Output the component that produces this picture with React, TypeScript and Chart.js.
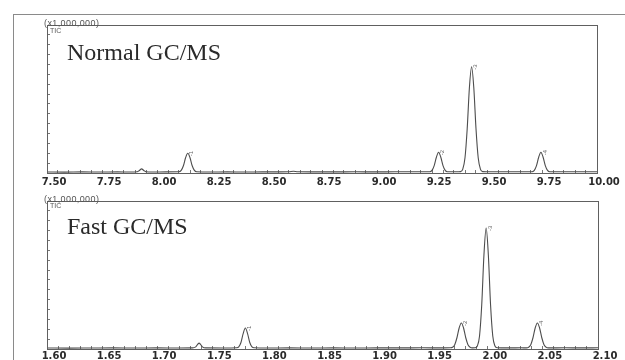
import React, { useEffect, useRef } from 'react';
import { Chart, registerables } from 'chart.js';

Chart.register(...registerables);

// Retention time (min) / TIC signal (x1,000,000)
const normalTrace: [number, number][] = [
  [7.50, 0.010], [7.58, 0.009], [7.66, 0.011], [7.74, 0.010], [7.82, 0.011], [7.88, 0.010],
  [7.91, 0.013], [7.92, 0.026], [7.93, 0.042], [7.94, 0.026], [7.95, 0.013], [7.98, 0.010],
  [8.04, 0.011], [8.10, 0.012], [8.11, 0.026], [8.12, 0.073], [8.13, 0.155], [8.14, 0.200],
  [8.15, 0.155], [8.16, 0.073], [8.17, 0.026], [8.18, 0.012], [8.24, 0.010], [8.32, 0.011],
  [8.40, 0.010], [8.48, 0.011], [8.56, 0.011], [8.60, 0.012], [8.62, 0.018], [8.64, 0.012],
  [8.70, 0.011], [8.80, 0.011], [8.90, 0.012], [9.00, 0.011], [9.08, 0.012], [9.16, 0.012],
  [9.24, 0.013], [9.25, 0.027], [9.26, 0.075], [9.27, 0.160], [9.28, 0.210], [9.29, 0.160],
  [9.30, 0.075], [9.31, 0.027], [9.32, 0.013], [9.36, 0.012], [9.38, 0.014], [9.39, 0.040],
  [9.40, 0.154], [9.41, 0.448], [9.42, 0.864], [9.43, 1.077], [9.44, 0.864], [9.45, 0.448],
  [9.46, 0.154], [9.47, 0.040], [9.48, 0.014], [9.52, 0.012], [9.58, 0.013], [9.64, 0.012],
  [9.70, 0.012], [9.705, 0.013], [9.715, 0.027], [9.725, 0.075], [9.735, 0.160], [9.745, 0.210],
  [9.755, 0.160], [9.765, 0.075], [9.775, 0.027], [9.785, 0.013], [9.82, 0.012], [9.90, 0.013],
  [9.96, 0.012], [10.00, 0.013],
];

const fastTrace: [number, number][] = [
  [1.600, 0.010], [1.620, 0.009], [1.640, 0.010], [1.660, 0.011], [1.680, 0.010], [1.700, 0.011],
  [1.720, 0.010], [1.732, 0.011], [1.735, 0.022], [1.738, 0.060], [1.741, 0.022], [1.744, 0.011],
  [1.760, 0.010], [1.772, 0.012], [1.774, 0.021], [1.776, 0.066], [1.778, 0.156], [1.780, 0.213],
  [1.782, 0.156], [1.784, 0.066], [1.786, 0.021], [1.788, 0.012], [1.800, 0.010], [1.820, 0.011],
  [1.840, 0.010], [1.860, 0.011], [1.880, 0.010], [1.900, 0.011], [1.920, 0.011], [1.940, 0.012],
  [1.960, 0.011], [1.966, 0.012], [1.968, 0.017], [1.970, 0.044], [1.972, 0.114], [1.974, 0.213],
  [1.976, 0.264], [1.978, 0.213], [1.980, 0.114], [1.982, 0.044], [1.984, 0.017], [1.986, 0.011],
  [1.9885, 0.012], [1.9905, 0.031], [1.9925, 0.132], [1.9945, 0.448], [1.9965, 0.952], [1.9985, 1.226],
  [2.0005, 0.952], [2.0025, 0.448], [2.0045, 0.132], [2.0065, 0.031], [2.0085, 0.012], [2.012, 0.011],
  [2.020, 0.011], [2.030, 0.012], [2.035, 0.011], [2.037, 0.017], [2.039, 0.044], [2.041, 0.114],
  [2.043, 0.213], [2.045, 0.264], [2.047, 0.213], [2.049, 0.114], [2.051, 0.044], [2.053, 0.017],
  [2.055, 0.011], [2.070, 0.012], [2.085, 0.011], [2.100, 0.012],
];

const normalPeakTimes = [8.14, 9.28, 9.43, 9.745];
const normalPeakHeights = [0.200, 0.210, 1.077, 0.210];
const fastPeakTimes = [1.780, 1.976, 1.9985, 2.045];
const fastPeakHeights = [0.213, 0.264, 1.226, 0.264];
const peakNumbers = ['1', '2', '3', '4'];

const normalRange = [7.5, 10.0];
const fastRange = [1.6, 2.1];
const normalLabelStep = 0.25;
const fastLabelStep = 0.05;
const titles = ['Normal GC/MS', 'Fast GC/MS'];
const scaleLabel = '(x1,000,000)';
const signalLabel = 'TIC';

const overlayPlugin = {
  id: 'overlay',
  afterDatasetsDraw(chart: any, _args: any, opts: any) {
    const { ctx, chartArea: a, scales } = chart;
    ctx.save();
    // peak number annotations
    ctx.fillStyle = '#666';
    ctx.font = '6px "Liberation Sans"';
    ctx.textAlign = 'left';
    ctx.textBaseline = 'middle';
    (opts.peakTimes || []).forEach((t: number, i: number) => {
      const px = scales.x.getPixelForValue(t);
      const py = scales.y.getPixelForValue(opts.peakHeights[i]);
      ctx.save();
      ctx.translate(px + 4, py + 3);
      ctx.rotate(-Math.PI / 2);
      ctx.fillText('-' + opts.labels[i], 0, 0);
      ctx.restore();
    });
    ctx.restore();
  },
  afterDraw(chart: any, _args: any, opts: any) {
    const { ctx, chartArea: a } = chart;
    ctx.save();
    ctx.strokeStyle = '#606060';
    ctx.lineWidth = 1;
    ctx.strokeRect(Math.round(a.left) + 0.5, Math.round(a.top) + 0.5,
      Math.round(a.right - a.left), Math.round(a.bottom - a.top));
    ctx.textBaseline = 'alphabetic';
    ctx.textAlign = 'left';
    ctx.fillStyle = '#555';
    ctx.font = '9px "Liberation Sans"';
    try { (ctx as any).letterSpacing = '0.4px'; } catch (e) {}
    ctx.fillText(opts.scaleLabel, a.left - 3, a.top + 1);
    try { (ctx as any).letterSpacing = '0px'; } catch (e) {}
    ctx.font = '7px "Liberation Sans"';
    ctx.fillText(opts.signalLabel, a.left + 3, a.top + opts.ticDy);
    ctx.fillStyle = '#2a2a2a';
    ctx.font = '24px "Liberation Serif"';
    ctx.fillText(opts.title, a.left + 20, a.top + opts.titleDy);
    ctx.restore();
  },
};

type PanelProps = {
  trace: [number, number][];
  range: number[];
  labelStep: number;
  peakTimes: number[];
  peakHeights: number[];
  title: string;
  height: number;
  padTop: number;
  padRight: number;
  axisHeight: number;
  labelPad: number;
  titleDy: number;
  ticDy: number;
  top: number;
};

function Panel(p: PanelProps) {
  const ref = useRef<HTMLCanvasElement>(null);
  useEffect(() => {
    if (!ref.current) return;
    const minorStep = p.labelStep / 5;
    const chart = new Chart(ref.current, {
      type: 'line',
      data: {
        datasets: [{
          data: p.trace.map(([x, y]) => ({ x, y })),
          borderColor: '#4d4d4d',
          borderWidth: 1.1,
          pointRadius: 0,
          fill: false,
          cubicInterpolationMode: 'monotone',
        }],
      },
      options: {
        animation: false,
        responsive: false,
        parsing: true,
        layout: { padding: { left: 47, right: p.padRight, top: p.padTop, bottom: 0 } },
        plugins: {
          legend: { display: false },
          tooltip: { enabled: false },
          overlay: {
            peakTimes: p.peakTimes,
            peakHeights: p.peakHeights,
            labels: peakNumbers,
            title: p.title,
            scaleLabel,
            signalLabel,
            titleDy: p.titleDy,
            ticDy: p.ticDy,
          },
        } as any,
        scales: {
          x: {
            type: 'linear',
            min: p.range[0],
            max: p.range[1],
            afterFit: (s: any) => { s.height = p.axisHeight; },
            border: { display: true, color: '#555', width: 1 },
            grid: {
              display: true,
              drawOnChartArea: false,
              drawTicks: true,
              tickLength: -3,
              tickColor: '#777',
            },
            ticks: {
              stepSize: minorStep,
              autoSkip: false,
              maxRotation: 0,
              minRotation: 0,
              padding: p.labelPad,
              labelOffset: 7,
              color: '#2b2b2b',
              font: { family: '"DejaVu Sans"', size: 10, weight: 'bold' },
              callback: (v: any) => {
                const r = Number(v) / p.labelStep;
                return Math.abs(r - Math.round(r)) < 1e-6 ? Number(v).toFixed(2) : '';
              },
            },
          },
          y: {
            type: 'linear',
            min: 0,
            max: 1.5,
            afterFit: (s: any) => { s.width = 0; },
            border: { display: true, color: '#555', width: 1 },
            grid: {
              display: true,
              drawOnChartArea: false,
              drawTicks: true,
              tickLength: -3,
              tickColor: '#777',
            },
            ticks: { display: false, stepSize: 0.1 },
          },
        },
      } as any,
      plugins: [overlayPlugin as any],
    });
    return () => chart.destroy();
  }, []);
  return (
    <canvas
      ref={ref}
      width={625}
      height={p.height}
      style={{ position: 'absolute', left: 0, top: p.top, display: 'block' }}
    />
  );
}

export default function App() {
  return (
    <div style={{ position: 'fixed', left: 0, top: 0, width: 625, height: 360, overflow: 'hidden', background: '#fff' }}>
      <div style={{
        position: 'absolute', left: 13, top: 14, width: 700, height: 400,
        borderTop: '1px solid #8a8a8a', borderLeft: '1px solid #8a8a8a',
      }} />
      <Panel
        trace={normalTrace} range={normalRange} labelStep={normalLabelStep}
        peakTimes={normalPeakTimes} peakHeights={normalPeakHeights}
        title={titles[0]} height={190} top={0} padTop={25} padRight={28}
        axisHeight={17} labelPad={6} titleDy={35} ticDy={8}
      />
      <Panel
        trace={fastTrace} range={fastRange} labelStep={fastLabelStep}
        peakTimes={fastPeakTimes} peakHeights={fastPeakHeights}
        title={titles[1]} height={170} top={190} padTop={11} padRight={27}
        axisHeight={11} labelPad={4} titleDy={33} ticDy={7}
      />
    </div>
  );
}
